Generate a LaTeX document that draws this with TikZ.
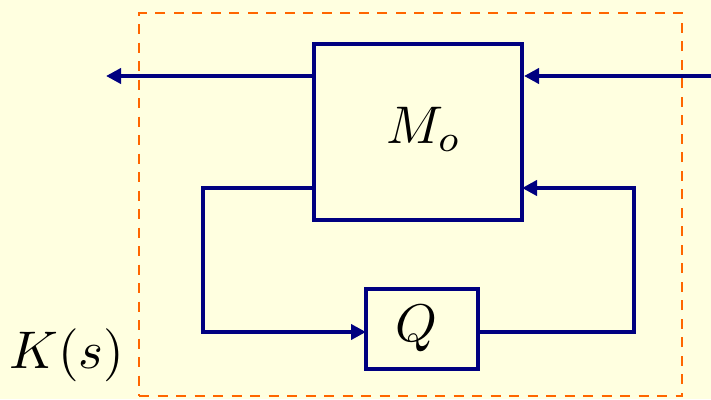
\documentclass[tikz,border=0pt]{standalone}
\usetikzlibrary{arrows.meta}
\definecolor{bg}{RGB}{255,255,224}
\definecolor{navy}{RGB}{0,0,128}
\definecolor{dashorange}{RGB}{255,102,0}
\tikzset{
  blk/.style={draw=navy, line width=4pt, rectangle, inner sep=0pt},
  sig/.style={draw=navy, line width=4pt, -{Triangle[length=15pt,width=15pt]}},
  lbl/.style={inner sep=0pt},
  frame/.style={draw=dashorange, line width=2.6pt, dash pattern=on 10pt off 8.5pt, rectangle, inner sep=0pt}
}
\begin{document}
\begin{tikzpicture}[x=1pt,y=-1pt]
\fill[bg] (0,0) rectangle (711,399);
\useasboundingbox (0,0) rectangle (711,399);
\node[frame, minimum width=543pt, minimum height=383pt] (F) at (410.5,204.5) {};
\node[blk, minimum width=208pt, minimum height=176pt] (M) at (418,132) {};
\node[lbl] (Mlbl) at (424,129) {\scalebox{5.3}{$M_o$}};
\node[blk, minimum width=112pt, minimum height=80pt] (Q) at (422,329) {};
\node[lbl] (Qlbl) at (416,329) {\scalebox{5.3}{$Q$}};
\node[lbl] (K) at (67,355) {\scalebox{5.3}{$K(s)$}};
\coordinate (inR) at (711,76);
\coordinate (outL) at (106,76);
\coordinate (Mw2) at (314,188);
\coordinate (Me2) at (522,188);
\coordinate (cl) at (203,188);
\coordinate (cl2) at (203,332);
\coordinate (cr) at (634,332);
\coordinate (cr2) at (634,188);
\coordinate (Qw) at (366,332);
\coordinate (Qe) at (476,332);
\draw[sig] (inR) -- (M.east |- inR);
\draw[sig] (M.west |- inR) -- (outL);
\draw[sig, line join=miter] (Mw2) -- (cl) -- (cl2) -- (Qw);
\draw[sig, line join=miter] (Qe) -- (cr) -- (cr2) -- (Me2);
\end{tikzpicture}
\end{document}
